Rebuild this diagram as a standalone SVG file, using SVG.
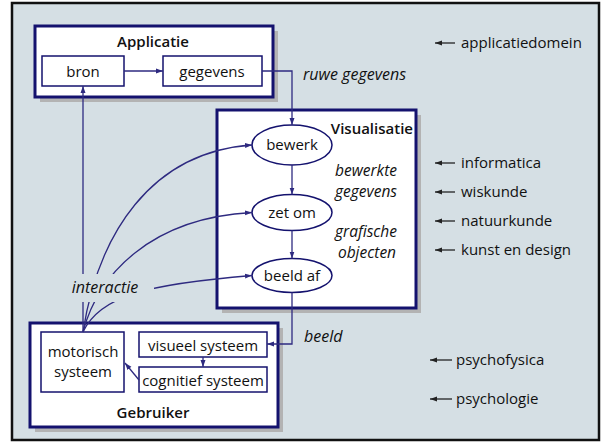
<svg xmlns="http://www.w3.org/2000/svg" width="605" height="444" viewBox="0 0 605 444">
<style>
text{font-family:"Open Sans","Noto Sans",sans-serif;font-size:15px;fill:#111}
.b{font-weight:600}
.i{font-style:italic;font-size:16px}
.s{font-size:15.5px}
.m{text-anchor:middle}
.big{fill:#fff;stroke:#14126e;stroke-width:3}
.sh{fill:#b3b3b3}
.box{fill:#fff;stroke:#14126e;stroke-width:1.5}
.c{fill:none;stroke:#2e2a80;stroke-width:1.3}
.k{fill:none;stroke:#222;stroke-width:1.3}
</style>
<defs>
<marker id="a" markerUnits="userSpaceOnUse" markerWidth="8" markerHeight="6" refX="7" refY="3" orient="auto"><path d="M0,0.5 L7,3 L0,5.5 z" fill="#2e2a80"/></marker>
<marker id="ak" markerUnits="userSpaceOnUse" markerWidth="8" markerHeight="6" refX="7" refY="3" orient="auto"><path d="M0,0.5 L7,3 L0,5.5 z" fill="#222"/></marker>
<mask id="lm" maskUnits="userSpaceOnUse" x="0" y="0" width="605" height="444"><rect x="0" y="0" width="605" height="444" fill="#fff"/><rect x="66" y="274" width="88" height="28" fill="#000"/></mask>
</defs>
<rect x="12" y="3" width="587" height="437" fill="#d5dfe4" stroke="#111" stroke-width="2.5"/>

<g id="applicatie">
<rect class="sh" x="40" y="31" width="238" height="71"/>
<rect class="big" x="35" y="26" width="238" height="71"/>
<text class="b m" x="153" y="47">Applicatie</text>
</g>
<g id="bron"><rect class="box" x="42" y="56" width="82" height="30"/><text class="m" x="83" y="77">bron</text></g>
<g id="gegevens"><rect class="box" x="163" y="56" width="99" height="30"/><text class="m" x="212" y="77">gegevens</text></g>

<g id="visualisatie">
<rect class="sh" x="222" y="115" width="199" height="198"/>
<rect class="big" x="217" y="110" width="199" height="198"/>
<text class="b" x="413" y="134" text-anchor="end">Visualisatie</text>
</g>
<g id="bewerk"><ellipse class="box" cx="292" cy="145" rx="40" ry="20"/><text class="m" x="292" y="150">bewerk</text></g>
<g id="zetom"><ellipse class="box" cx="292" cy="212.5" rx="40" ry="18"/><text class="m" x="292" y="218">zet om</text></g>
<g id="beeldaf"><ellipse class="box" cx="292" cy="275.5" rx="40" ry="17"/><text class="m" x="292" y="281">beeld af</text></g>

<g id="gebruiker">
<rect class="sh" x="35" y="328" width="248" height="104"/>
<rect class="big" x="30" y="323" width="248" height="104"/>
<text class="b m" x="153" y="418">Gebruiker</text>
</g>
<g id="motorisch"><rect class="box" x="41" y="332" width="83" height="60"/><text class="m" x="83" y="357">motorisch</text><text class="m" x="83" y="377">systeem</text></g>
<g id="visueel"><rect class="box" x="139" y="332" width="128" height="25"/><text class="m" x="203" y="351">visueel systeem</text></g>
<g id="cognitief"><rect class="box" x="139" y="367" width="128" height="25"/><text class="m" x="203" y="386">cognitief systeem</text></g>

<g id="labels">
<text class="i" x="303" y="80">ruwe gegevens</text>
<text class="i s m" x="366" y="176">bewerkte</text>
<text class="i s m" x="366" y="197">gegevens</text>
<text class="i s m" x="366" y="237">grafische</text>
<text class="i s m" x="367" y="258">objecten</text>
<text class="i" x="304" y="342">beeld</text>
<text class="i m" x="105" y="293">interactie</text>
</g>

<g id="connectors">
<path class="c" d="M124,71 H163" marker-end="url(#a)"/>
<path class="c" d="M262,71 H292 V125" marker-end="url(#a)"/>
<path class="c" d="M292,165 V194.5" marker-end="url(#a)"/>
<path class="c" d="M292,230.5 V258.5" marker-end="url(#a)"/>
<path class="c" d="M292,292.5 V344 H267" marker-end="url(#a)"/>
<path class="c" d="M203,357 V367" marker-end="url(#a)"/>
<path class="c" d="M139,380 L125,363" marker-end="url(#a)"/>
<g mask="url(#lm)">
<path class="c" d="M83,332 V86" marker-end="url(#a)"/>
<path class="c" d="M83,332 C98,235 150,152 252,145" marker-end="url(#a)"/>
<path class="c" d="M83,332 C98,275 150,218 252,212.5" marker-end="url(#a)"/>
<path class="c" d="M83,332 C100,295 150,284 252,275.5" marker-end="url(#a)"/>
</g>
<path class="k" d="M455,43 H435" marker-end="url(#ak)"/>
<path class="k" d="M455,163 H435" marker-end="url(#ak)"/>
<path class="k" d="M455,192 H435" marker-end="url(#ak)"/>
<path class="k" d="M455,221 H435" marker-end="url(#ak)"/>
<path class="k" d="M455,250 H435" marker-end="url(#ak)"/>
<path class="k" d="M452,360 H430" marker-end="url(#ak)"/>
<path class="k" d="M452,399 H430" marker-end="url(#ak)"/>
</g>
<g id="domains">
<text x="461" y="48">applicatiedomein</text>
<text x="461" y="168">informatica</text>
<text x="461" y="197">wiskunde</text>
<text x="461" y="226">natuurkunde</text>
<text x="461" y="255">kunst en design</text>
<text x="456" y="365">psychofysica</text>
<text x="456" y="404">psychologie</text>
</g>
</svg>
